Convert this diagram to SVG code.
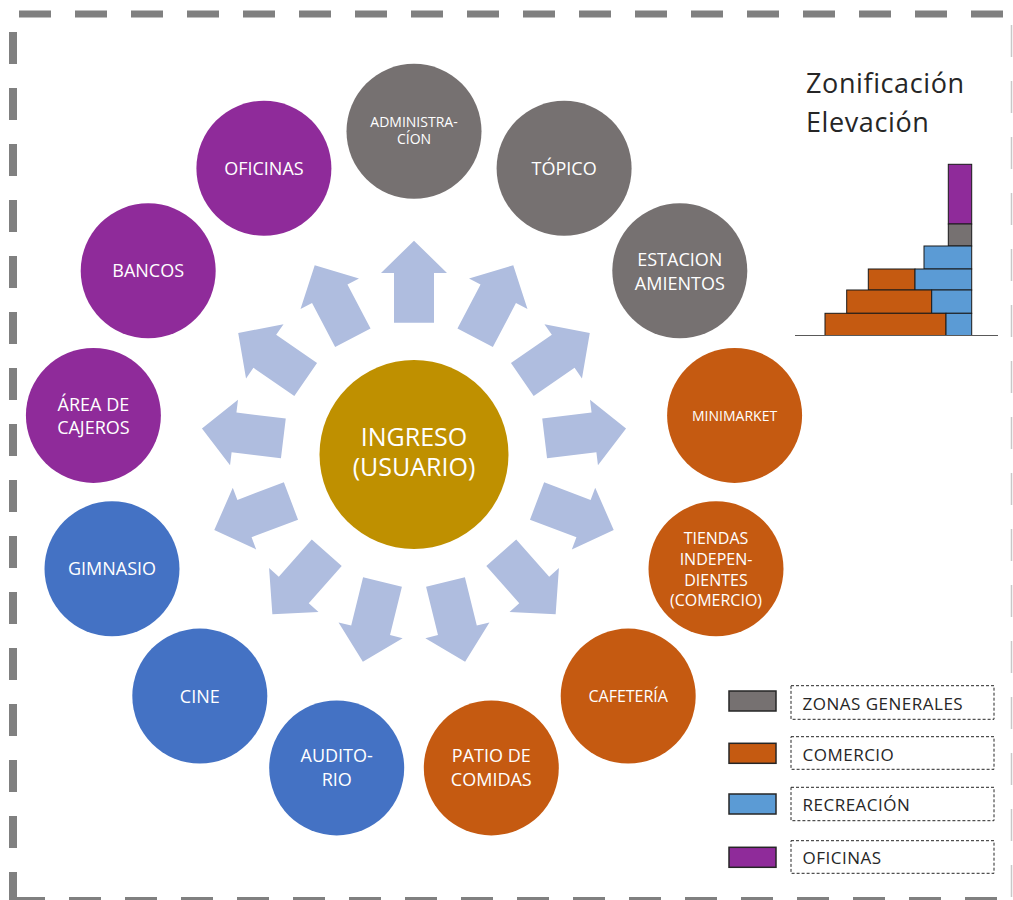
<svg xmlns="http://www.w3.org/2000/svg" xmlns:xlink="http://www.w3.org/1999/xlink" width="1013" height="900" viewBox="0 0 1013 900">
  <style>
    .lbl { fill: #ffffff; font-family: "Open Sans", "Noto Sans", sans-serif; text-anchor: middle; }
    .s18 { font-size: 18px; }
    .s16 { font-size: 16px; }
    .s14 { font-size: 14px; }
    .gray { fill: #767171; }
    .orange { fill: #C55A11; }
    .blue { fill: #4472C4; }
    .purple { fill: #8F2B9A; }
    .arrow { fill: #AFBDDF; }
    .frame { stroke: #808080; fill: none; stroke-dasharray: 32 24; }
    .title { font-family: "Open Sans", "Noto Sans", sans-serif; font-size: 27px; letter-spacing: 0.6px; fill: #262626; }
    .leg { font-family: "Open Sans", "Noto Sans", sans-serif; font-size: 17px; letter-spacing: 0.5px; fill: #262626; }
    .legbox { fill: none; stroke: #262626; stroke-width: 1; stroke-dasharray: 3 2; }
    .sw { stroke: #262626; stroke-width: 1.5; }
    .bar { stroke: #1a1a1a; stroke-width: 1; }
  </style>
  <defs>
    <!-- arrow pointing straight up from the hub at (414,454.3) -->
    <polygon id="arr" class="arrow" points="394,322.7 394,273 381,273 414,240.7 447,273 434,273 434,322.7"/>
  </defs>

  <rect width="1013" height="900" fill="#ffffff"/>

  <!-- dashed page frame -->
  <g id="frame">
    <line class="frame" x1="19" y1="14" x2="1013" y2="14" stroke-width="7"/>
    <line class="frame" x1="13" y1="32" x2="13" y2="900" stroke-width="8"/>
    <line class="frame" x1="13" y1="901" x2="1013" y2="901" stroke-width="8"/>
    <line x1="1011.5" y1="25" x2="1011.5" y2="900" stroke="#c8c8c8" stroke-width="1.5" stroke-dasharray="32 24"/>
  </g>

  <!-- arrows radiating from the hub -->
  <g id="connectors">
    <use xlink:href="#arr"/>
    <use xlink:href="#arr" transform="rotate(27.6923 414 454.3)"/>
    <use xlink:href="#arr" transform="rotate(55.3846 414 454.3)"/>
    <use xlink:href="#arr" transform="rotate(83.0769 414 454.3)"/>
    <use xlink:href="#arr" transform="rotate(110.7692 414 454.3)"/>
    <use xlink:href="#arr" transform="rotate(138.4615 414 454.3)"/>
    <use xlink:href="#arr" transform="rotate(166.1538 414 454.3)"/>
    <use xlink:href="#arr" transform="rotate(193.8462 414 454.3)"/>
    <use xlink:href="#arr" transform="rotate(221.5385 414 454.3)"/>
    <use xlink:href="#arr" transform="rotate(249.2308 414 454.3)"/>
    <use xlink:href="#arr" transform="rotate(276.9231 414 454.3)"/>
    <use xlink:href="#arr" transform="rotate(304.6154 414 454.3)"/>
    <use xlink:href="#arr" transform="rotate(332.3077 414 454.3)"/>
  </g>

  <!-- hub -->
  <g id="ingreso">
    <circle cx="414" cy="454.5" r="94.5" fill="#BF9000"/>
    <text class="lbl" font-size="25" x="414" y="446">INGRESO<tspan x="414" dy="30">(USUARIO)</tspan></text>
  </g>

  <g id="administracion">
    <circle class="gray" cx="414" cy="131.3" r="67.5"/>
    <text class="lbl s14" x="414" y="127">ADMINISTRA-<tspan x="414" dy="17">CÍON</tspan></text>
  </g>
  <g id="topico">
    <circle class="gray" cx="564.1" cy="168.3" r="67.5"/>
    <text class="lbl s18" x="564.1" y="174.5">TÓPICO</text>
  </g>
  <g id="estacionamientos">
    <circle class="gray" cx="679.8" cy="270.8" r="67.5"/>
    <text class="lbl s18" x="679.8" y="266">ESTACION<tspan x="679.8" dy="24">AMIENTOS</tspan></text>
  </g>
  <g id="minimarket">
    <circle class="orange" cx="734.6" cy="415.4" r="67.5"/>
    <text class="lbl s14" x="734.6" y="420.5">MINIMARKET</text>
  </g>
  <g id="tiendas">
    <circle class="orange" cx="716" cy="568.8" r="67.5"/>
    <text class="lbl s16" x="716" y="544">TIENDAS<tspan x="716" dy="21">INDEPEN-</tspan><tspan x="716" dy="21">DIENTES</tspan><tspan x="716" dy="20">(COMERCIO)</tspan></text>
  </g>
  <g id="cafeteria">
    <circle class="orange" cx="628.2" cy="696.1" r="67.5"/>
    <text class="lbl s16" x="628.2" y="701.8">CAFETERÍA</text>
  </g>
  <g id="patio-de-comidas">
    <circle class="orange" cx="491.3" cy="767.9" r="67.5"/>
    <text class="lbl s18" x="491.3" y="762">PATIO DE<tspan x="491.3" dy="24">COMIDAS</tspan></text>
  </g>
  <g id="auditorio">
    <circle class="blue" cx="336.7" cy="767.9" r="67.5"/>
    <text class="lbl s18" x="336.7" y="762">AUDITO-<tspan x="336.7" dy="24">RIO</tspan></text>
  </g>
  <g id="cine">
    <circle class="blue" cx="199.8" cy="696.1" r="67.5"/>
    <text class="lbl s18" x="199.8" y="702.5">CINE</text>
  </g>
  <g id="gimnasio">
    <circle class="blue" cx="112" cy="568.8" r="67.5"/>
    <text class="lbl s18" x="112" y="575">GIMNASIO</text>
  </g>
  <g id="area-de-cajeros">
    <circle class="purple" cx="93.4" cy="415.4" r="67.5"/>
    <text class="lbl s18" x="93.4" y="411">ÁREA DE<tspan x="93.4" dy="23">CAJEROS</tspan></text>
  </g>
  <g id="bancos">
    <circle class="purple" cx="148.2" cy="270.8" r="67.5"/>
    <text class="lbl s18" x="148.2" y="277">BANCOS</text>
  </g>
  <g id="oficinas">
    <circle class="purple" cx="263.9" cy="168.3" r="67.5"/>
    <text class="lbl s18" x="263.9" y="174.5">OFICINAS</text>
  </g>

  <!-- elevation zoning chart -->
  <g id="elevacion">
    <text class="title" x="806" y="93">Zonificación<tspan x="806" dy="39">Elevación</tspan></text>
    <rect class="bar purple" x="948.3" y="164.3" width="23.4" height="59.7"/>
    <rect class="bar gray" x="948.3" y="224" width="23.4" height="22"/>
    <rect class="bar" fill="#5B9BD5" x="924" y="246" width="47.7" height="23"/>
    <rect class="bar orange" x="868.3" y="269" width="46.7" height="21"/>
    <rect class="bar" fill="#5B9BD5" x="915" y="269" width="56.7" height="21"/>
    <rect class="bar orange" x="846.7" y="290" width="85" height="23.3"/>
    <rect class="bar" fill="#5B9BD5" x="931.7" y="290" width="40" height="23.3"/>
    <rect class="bar orange" x="825" y="313.3" width="121" height="22.2"/>
    <rect class="bar" fill="#5B9BD5" x="946" y="313.3" width="25.7" height="22.2"/>
    <line x1="795" y1="335.5" x2="998" y2="335.5" stroke="#595959" stroke-width="1.2"/>
  </g>

  <!-- legend -->
  <g id="legend">
    <rect class="sw" fill="#767171" x="729" y="691" width="47" height="20"/>
    <rect class="legbox" x="791" y="685.7" width="203" height="33.6"/>
    <text class="leg" x="802.5" y="710">ZONAS GENERALES</text>

    <rect class="sw" fill="#C55A11" x="729" y="743.3" width="47" height="20"/>
    <rect class="legbox" x="791" y="736.7" width="203" height="32.6"/>
    <text class="leg" x="802.5" y="760.7">COMERCIO</text>

    <rect class="sw" fill="#5B9BD5" x="729" y="794" width="47" height="20"/>
    <rect class="legbox" x="791" y="787.3" width="203" height="33.4"/>
    <text class="leg" x="802.5" y="811">RECREACIÓN</text>

    <rect class="sw" fill="#8F2B9A" x="729" y="847.3" width="47" height="20"/>
    <rect class="legbox" x="791" y="840.7" width="203" height="32.6"/>
    <text class="leg" x="802.5" y="864.3">OFICINAS</text>
  </g>
</svg>
